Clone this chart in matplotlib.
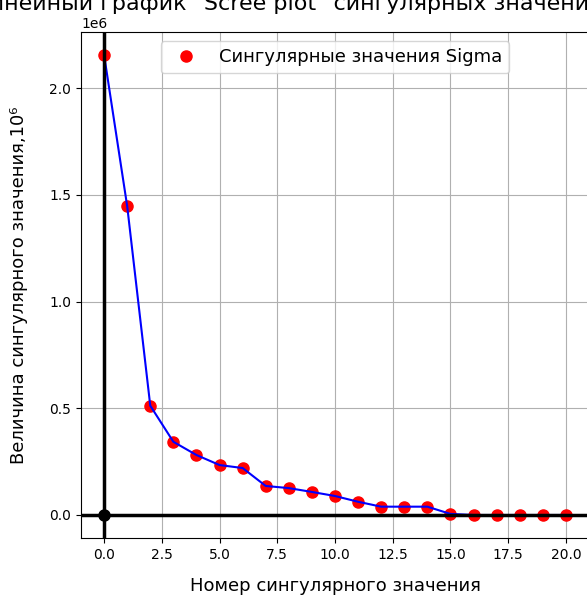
import numpy as np
import matplotlib.pyplot as plt

# Номера и величины сингулярных значений (читаем с графика)
nums = list(range(21))
sigma = [2.155e6, 1.447e6, 0.512e6, 0.343e6, 0.281e6, 0.234e6, 0.220e6,
         0.136e6, 0.126e6, 0.108e6, 0.089e6, 0.062e6, 0.039e6, 0.039e6,
         0.039e6, 0.005e6, 0.0, 0.0, 0.0, 0.0, 0.0]

title_text = 'Линейный график "Scree plot" сингулярных значений'
legend_text = 'Сингулярные значения Sigma'
xlabel_text = 'Номер сингулярного значения'
ylabel_text = 'Величина сингулярного значения,10⁶'

fig = plt.figure(figsize=(5.87, 5.95), dpi=100)
ax = fig.add_axes([81 / 587, 1 - 538 / 595, 508 / 587, 506 / 595])

ax.plot(nums, sigma, 'ro', markersize=8, label=legend_text)
ax.plot(nums, sigma, 'b-', linewidth=1.5)
ax.axhline(0, color='black', linewidth=2.5)
ax.axvline(0, color='black', linewidth=2.5)
ax.plot(0, 0, 'ko', markersize=8)

ax.grid(True)
ax.set_xlabel(xlabel_text, fontsize=13, labelpad=11)
ax.set_ylabel(ylabel_text, fontsize=13, labelpad=15)
ax.legend(loc='upper center', fontsize=13)
fig.text(288 / 587, 1 - 10 / 595, title_text, ha='center', va='baseline', fontsize=16)

fig.savefig('out.png', dpi=100)
